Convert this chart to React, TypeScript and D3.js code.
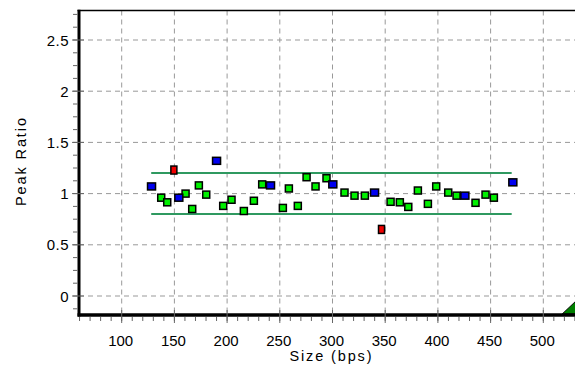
import React from 'react';
import * as d3 from 'd3';

// peak ratio per allele size
const greenSizes = [137.5, 143.2, 160.6, 166.9, 173.2, 180.2, 196.3, 204.2, 215.9, 225.4, 233.3, 252.9, 258.6, 267.1, 275.4, 283.9, 294.3, 311.4, 320.9, 330.7, 355.1, 363.9, 371.9, 381.0, 390.5, 398.4, 409.8, 417.7, 435.7, 445.2, 453.1];
const greenRatios = [0.96, 0.915, 1.0, 0.85, 1.08, 0.99, 0.88, 0.94, 0.83, 0.93, 1.09, 0.86, 1.05, 0.88, 1.16, 1.07, 1.15, 1.01, 0.98, 0.98, 0.92, 0.915, 0.87, 1.03, 0.9, 1.07, 1.01, 0.98, 0.91, 0.99, 0.96];
const blueSizes = [128.3, 154.2, 190.0, 241.2, 300.3, 339.9, 425.6, 471.1];
const blueRatios = [1.07, 0.96, 1.32, 1.08, 1.09, 1.01, 0.98, 1.11];
const redSizes = [149.5, 346.5];
const redRatios = [1.23, 0.65];

const limitLines = [0.8, 1.2];
const limitRange = [128, 470];
const xTicks = [100, 150, 200, 250, 300, 350, 400, 450, 500];
const yTicks = [0, 0.5, 1, 1.5, 2, 2.5];
const edgeMarker = { size: 535, ratio: 0 };

const W = 575;
const H = 367;
const left = 79;
const top = 10.5;
const bottom = 315;

const x = d3.scaleLinear().domain([100, 500]).range([121.7, 543.3]);
const y = d3.scaleLinear().domain([0, 2.5]).range([296, 40]);

const font = '"Liberation Sans", Arial, sans-serif';

export default function App() {
  const xMinor = d3.range(60, 561, 10);
  const yMinor = d3.range(-0.125, 2.8, 0.125).filter(v => y(v) > top + 2);

  const pts = (sx: number[], sy: number[]) => sx.map((s, i) => ({ s, r: sy[i] }));

  return (
    <svg width={W} height={H} style={{ position: 'absolute', left: 0, top: 0, background: '#fff' }}>
      {/* grid */}
      <g stroke="#999" strokeWidth={1} strokeDasharray="5,4">
        {yTicks.map(t => (
          <line key={'gy' + t} x1={left} x2={W} y1={y(t)} y2={y(t)} />
        ))}
        {xTicks.map(t => (
          <line key={'gx' + t} x1={x(t)} x2={x(t)} y1={top} y2={bottom} />
        ))}
      </g>

      {/* limit lines */}
      {limitLines.map(v => (
        <line key={'lim' + v} x1={x(limitRange[0])} x2={x(limitRange[1])} y1={y(v)} y2={y(v)}
          stroke="#2f9960" strokeWidth={2} />
      ))}

      {/* markers */}
      <g stroke="#000" strokeWidth={1.5}>
        {pts(greenSizes, greenRatios).map((d, i) => (
          <rect key={'g' + i} x={x(d.s) - 3.5} y={y(d.r) - 3.5} width={7} height={7} fill="#00f000" />
        ))}
        {pts(blueSizes, blueRatios).map((d, i) => (
          <rect key={'b' + i} x={x(d.s) - 4} y={y(d.r) - 3.5} width={8} height={7} fill="#0000f0" />
        ))}
        {pts(redSizes, redRatios).map((d, i) => (
          <rect key={'r' + i} x={x(d.s) - 3} y={y(d.r) - 4} width={6} height={8} fill="#f00000" />
        ))}
      </g>

      {/* marker at edge */}
      <path
        d={`M${x(edgeMarker.size) - 18},${bottom - 1} L${x(edgeMarker.size)},${y(edgeMarker.ratio) + 1} L${x(edgeMarker.size) + 18},${bottom - 1} Z`}
        fill="#008000" stroke="#000" strokeWidth={1} />

      {/* frame */}
      <line x1={left - 1.5} x2={W} y1={top} y2={top} stroke="#000" strokeWidth={1.5} />
      <line x1={left} x2={left} y1={top - 0.75} y2={bottom + 1.5} stroke="#000" strokeWidth={3} />
      <line x1={left - 1.5} x2={W} y1={bottom} y2={bottom} stroke="#000" strokeWidth={3.5} />

      {/* ticks */}
      <g stroke="#666" strokeWidth={1}>
        {xMinor.map(t => (
          <line key={'xm' + t} x1={x(t)} x2={x(t)} y1={bottom + 2} y2={bottom + 6} />
        ))}
        {yMinor.map(t => (
          <line key={'ym' + t} x1={left - 6} x2={left - 1.5} y1={y(t)} y2={y(t)} />
        ))}
        {yTicks.map(t => (
          <line key={'yM' + t} x1={left - 7} x2={left + 5} y1={y(t)} y2={y(t)} />
        ))}
        {xTicks.map(t => (
          <line key={'xM' + t} x1={x(t)} x2={x(t)} y1={bottom - 5} y2={bottom + 8} />
        ))}
      </g>

      {/* tick labels */}
      <g fontFamily={font} fontSize={15} fill="#000">
        {yTicks.map(t => (
          <text key={'yl' + t} x={69} y={y(t) + 5.5} textAnchor="end" letterSpacing={0.5}>{d3.format('')(t)}</text>
        ))}
        {xTicks.map(t => (
          <text key={'xl' + t} x={x(t) - 1} y={346} textAnchor="middle">{t}</text>
        ))}
      </g>

      {/* axis titles */}
      <text x={330.5} y={361} textAnchor="middle" fontFamily={font} fontSize={14.5} fill="#000"
        textLength={82} lengthAdjust="spacing">Size (bps)</text>
      <text transform={`translate(26,162) rotate(-90)`} textAnchor="middle" fontFamily={font} fontSize={14.5}
        fill="#000" textLength={88} lengthAdjust="spacing">Peak Ratio</text>
    </svg>
  );
}
